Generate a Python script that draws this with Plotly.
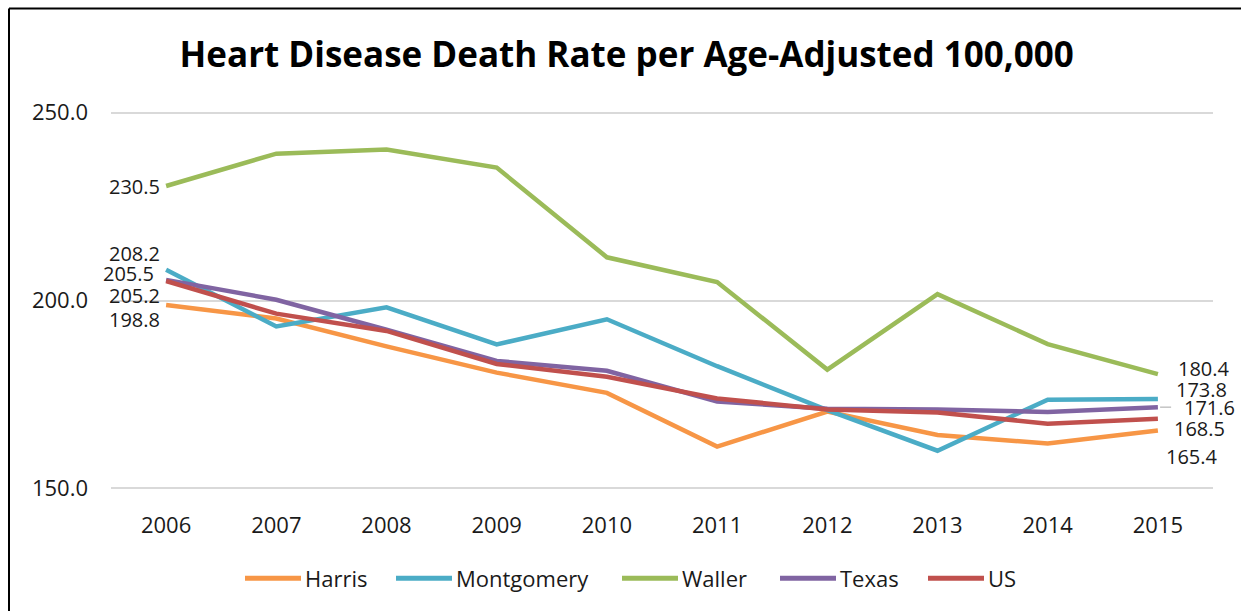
import plotly.graph_objects as go

# Heart disease death rate per age-adjusted 100,000, by area
years = ["2006", "2007", "2008", "2009", "2010", "2011", "2012", "2013", "2014", "2015"]
harris = [198.8, 195.2, 187.8, 180.8, 175.4, 161.1, 170.4, 164.2, 161.9, 165.4]
montgomery = [208.2, 193.1, 198.2, 188.3, 195.0, 182.5, 170.8, 160.0, 173.6, 173.8]
waller = [230.5, 239.1, 240.2, 235.4, 211.5, 204.9, 181.6, 201.7, 188.4, 180.4]
texas = [205.5, 200.2, 192.2, 183.9, 181.3, 173.1, 171.2, 171.0, 170.3, 171.6]
us = [205.2, 196.5, 191.9, 183.1, 179.7, 173.9, 171.0, 170.2, 167.2, 168.5]

series = [
    ("Harris", harris, "#F79646"),
    ("Montgomery", montgomery, "#4BACC6"),
    ("Waller", waller, "#9BBB59"),
    ("Texas", texas, "#8064A2"),
    ("US", us, "#C0504D"),
]

# pixel offsets for the start / end value labels (x shift, y shift)
start_offsets = {"Harris": (0, -14), "Montgomery": (0, 17), "Waller": (0, 0),
                 "Texas": (-6, 7), "US": (0, -14)}
end_offsets = {"Harris": (2, -26), "Montgomery": (12, 10), "Waller": (14, 6),
               "Texas": (20, 0), "US": (10, -9)}

FONT = "Open Sans, sans-serif"
TXT = "#1a1a1a"
W, H = 1241, 611
Y_MIN, Y_MAX = 149, 251
L, R, T, B = 111, 28, 109.25, 119.25
pw, ph = W - L - R, H - T - B


def px_x(p):
    return (p - L) / pw


def px_y(p):
    return (H - B - p) / ph


fig = go.Figure()
for name, vals, color in series:
    fig.add_trace(go.Scatter(
        x=list(range(len(years))), y=vals, name=name, mode="lines",
        line=dict(color=color, width=4.5), showlegend=False,
    ))

for name, vals, color in series:
    dx, dy = start_offsets[name]
    fig.add_annotation(x=0, y=vals[0], xref="x", yref="y", text=f"{vals[0]:.1f}",
                       showarrow=False, xanchor="right", yanchor="middle",
                       xshift=-4 + dx, yshift=dy, height=18,
                       font=dict(family=FONT, size=20, color=TXT))
    dx, dy = end_offsets[name]
    fig.add_annotation(x=len(years) - 1, y=vals[-1], xref="x", yref="y",
                       text=f"{vals[-1]:.1f}", showarrow=False,
                       xanchor="left", yanchor="middle",
                       xshift=4 + dx, yshift=dy, height=18,
                       font=dict(family=FONT, size=20, color=TXT))

# short leader line for the Texas end label
fig.add_shape(type="line", xref="x", yref="y",
              x0=len(years) - 1 + 0.02, x1=len(years) - 1 + 0.12,
              y0=texas[-1], y1=texas[-1], line=dict(color="#A6A6A6", width=1))

# legend row below the axis: colour swatch followed by the series name
legend_y = 578
legend_x = [245, 396, 622, 780, 928]
for (name, vals, color), x0 in zip(series, legend_x):
    fig.add_shape(type="line", xref="paper", yref="paper",
                  x0=px_x(x0), x1=px_x(x0 + 56), y0=px_y(legend_y), y1=px_y(legend_y),
                  line=dict(color=color, width=5))
    fig.add_annotation(xref="paper", yref="paper", x=px_x(x0 + 58), y=px_y(legend_y),
                       text=name, showarrow=False, xanchor="left", yanchor="middle",
                       font=dict(family=FONT, size=22, color=TXT))

# chart frame (left and top edges)
fig.add_shape(type="line", xref="paper", yref="paper",
              x0=px_x(9), x1=px_x(9), y0=px_y(9), y1=px_y(H + 5),
              line=dict(color="#000000", width=2))
fig.add_shape(type="line", xref="paper", yref="paper",
              x0=px_x(9), x1=px_x(W + 5), y0=px_y(9), y1=px_y(9),
              line=dict(color="#000000", width=2))

fig.update_layout(
    width=W, height=H,
    margin=dict(l=L, r=R, t=T, b=B),
    paper_bgcolor="white", plot_bgcolor="white",
    title=dict(text="<b>Heart Disease Death Rate per Age-Adjusted 100,000</b>",
               x=0.505, xanchor="center", y=1 - 55 / H, yanchor="middle",
               font=dict(family=FONT, size=35, color="#000000")),
    xaxis=dict(
        tickmode="array", tickvals=list(range(len(years))), ticktext=years,
        range=[-0.5, len(years) - 0.5], showgrid=False, zeroline=False,
        showline=False, ticks="", ticklen=0, ticklabelstandoff=18,
        tickfont=dict(family=FONT, size=22, color=TXT),
    ),
    yaxis=dict(
        range=[Y_MIN, Y_MAX], tickvals=[150, 200, 250], tickformat=".1f",
        showgrid=True, gridcolor="#D9D9D9", gridwidth=1.5, zeroline=False,
        showline=False, ticks="", ticklen=0, ticklabelstandoff=22,
        tickfont=dict(family=FONT, size=22, color=TXT),
    ),
    showlegend=False,
)

fig.write_html("out.html")
